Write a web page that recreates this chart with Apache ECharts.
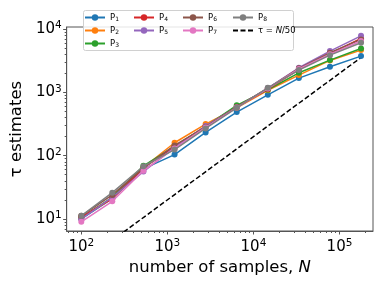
<!DOCTYPE html>
<html><head><meta charset="utf-8">
<script src="https://cdn.jsdelivr.net/npm/echarts@6/dist/echarts.min.js"></script>
<style>html,body{margin:0;padding:0;background:#fff}#c{width:382px;height:287px}</style>
</head><body><div id="c"></div>
<script>
const N = [100, 229, 527, 1212, 2783, 6394, 14685, 33731, 77473, 177828];
const P1 = [10, 21, 62, 104, 233, 489, 916, 1683, 2540, 3745];
const P2 = [10.5, 21, 65, 160, 316, 570, 1080, 1876, 3200, 4660];
const P3 = [10.5, 22, 69, 140, 290, 624, 1100, 2040, 3240, 4950];
const P4 = [10.8, 21, 64, 138, 290, 580, 1130, 2300, 4100, 7100];
const P5 = [10, 22, 56, 135, 295, 585, 1170, 2450, 4490, 7830];
const P6 = [11.2, 24, 64, 145, 285, 590, 1160, 2400, 4230, 6870];
const P7 = [9, 19, 58, 130, 280, 575, 1150, 2350, 4000, 6500];
const P8 = [11.2, 26, 68, 125, 270, 570, 1180, 2250, 3880, 6080];
const dashN = [100, 177828];
const dashTau = dashN.map(n => n / 50);
const xMajor = [100, 1000, 10000, 100000];
const yMajor = [10, 100, 1000, 10000];
const seriesNames = ['P1','P2','P3','P4','P5','P6','P7','P8'];
const seriesVals = [P1,P2,P3,P4,P5,P6,P7,P8];
const colors = ['#1f77b4','#ff7f0e','#2ca02c','#d62728','#9467bd','#8c564b','#e377c2','#7f7f7f'];

function minors(lo, hi){ const r=[]; for(let d=lo; d<hi; d*=10){ for(let k=2;k<=9;k++) r.push(d*k);} return r; }
const xMin = 67.6, xMax = 245000, yMin = 6.45, yMax = 10800;
const xMinor = minors(10, 1e6).filter(v => v > xMin && v < xMax);
const yMinor = minors(1, 1e5).filter(v => v > yMin && v < yMax);

const font = 'DejaVu Sans';
const pow = v => { const e = Math.round(Math.log10(v)); return '{b|10}{e|' + e + '}'; };
const richLab = { b:{fontSize:15, fontFamily:font, color:'#000'}, e:{fontSize:10.5, fontFamily:font, color:'#000', verticalAlign:'top', padding:[0,0,7,0]} };
const frame = '#555';

const series = seriesVals.map((vals, i) => ({
  name: seriesNames[i], type: 'line', xAxisIndex:0, yAxisIndex:0,
  data: N.map((n, j) => [n, vals[j]]),
  symbol: 'circle', symbolSize: 6, color: colors[i],
  lineStyle: {width: 1.5, color: colors[i]}, itemStyle:{color: colors[i]},
  z: 2 + i * 0.01
}));
series.push({
  name: 'tau', type: 'line', data: dashN.map((n, j) => [n, dashTau[j]]),
  symbol: 'none', color:'#000', lineStyle:{type:[5,2.5], width:1.5, color:'#000'}, z: 1
});

const legText = { fontSize: 8.5, fontFamily: font, color:'#000',
  rich: { p:{fontSize:8.5, fontFamily:font}, s:{fontSize:6, fontFamily:font, verticalAlign:'bottom', padding:[4,0,0,0]},
          n:{fontSize:8.5, fontFamily:font}, i:{fontSize:8.5, fontFamily:font, fontStyle:'italic'} } };
const legFmt = name => name === 'tau' ? '{n|τ = }{i|N}{n|/50}' : '{p|P}{s|' + name.slice(1) + '}';
function leg(left, data){ return { left, top: 13, orient:'vertical', padding:0, itemWidth:20, itemHeight:8, itemGap:3.5,
  data, formatter: legFmt, textStyle: legText, selectedMode:false, z: 5 }; }

const chart = echarts.init(document.getElementById('c'), null, {renderer:'canvas'});
chart.setOption({
  animation: false,
  backgroundColor: '#fff',
  grid: { left: 64, right: 9, top: 27, bottom: 56, show: true, borderColor: frame, borderWidth: 1 },
  xAxis: [
    { type:'log', logBase:10, min:xMin, max:xMax, position:'bottom',
      name:'number of samples, {i|N}', nameLocation:'middle', nameGap: 25,
      nameTextStyle:{fontSize:16.5, fontFamily:font, color:'#000', rich:{i:{fontStyle:'italic', fontSize:16.5, fontFamily:font}}},
      axisLine:{show:true, lineStyle:{color:frame}},
      axisTick:{show:true, length:3.5, customValues:xMajor, lineStyle:{color:frame}},
      axisLabel:{customValues:xMajor, formatter:pow, rich:richLab, margin:7},
      splitLine:{show:false}},
    { type:'log', logBase:10, min:xMin, max:xMax, position:'bottom',
      axisLine:{show:false}, axisTick:{show:true, length:2, customValues:xMinor, lineStyle:{color:frame}},
      axisLabel:{show:false}, splitLine:{show:false}}
  ],
  yAxis: [
    { type:'log', logBase:10, min:yMin, max:yMax, position:'left',
      name:'τ estimates', nameLocation:'middle', nameGap: 32, nameRotate: 90,
      nameTextStyle:{fontSize:16.5, fontFamily:font, color:'#000'},
      axisLine:{show:true, lineStyle:{color:frame}},
      axisTick:{show:true, length:3.5, customValues:yMajor, lineStyle:{color:frame}},
      axisLabel:{customValues:yMajor, formatter:pow, rich:richLab, margin:5},
      splitLine:{show:false}},
    { type:'log', logBase:10, min:yMin, max:yMax, position:'left',
      axisLine:{show:false}, axisTick:{show:true, length:2, customValues:yMinor, lineStyle:{color:frame}},
      axisLabel:{show:false}, splitLine:{show:false}}
  ],
  legend: [
    leg(84, ['P1','P2','P3']),
    leg(133, ['P4','P5']),
    leg(182, ['P6','P7']),
    leg(232, ['P8', {name:'tau', itemStyle:{opacity:0}}])
  ],
  graphic: [{ type:'rect', shape:{x:83.5, y:10.5, width:210, height:40, r:2}, z: 4,
    style:{fill:'rgba(255,255,255,0.85)', stroke:'#d0d0d0', lineWidth:1}}],
  series
});
</script></body></html>
